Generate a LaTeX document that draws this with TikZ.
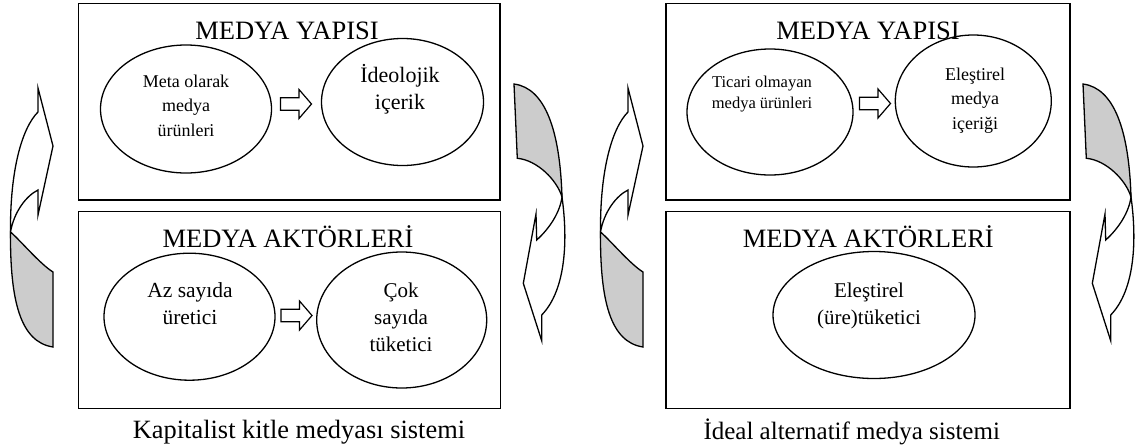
\documentclass[tikz,border=0pt]{standalone}
\usepackage{fontspec}
\setmainfont{Liberation Serif}
\usetikzlibrary{shapes.geometric}
\definecolor{shade}{RGB}{204,204,204}
\newcommand\hollowarrow[1]{\draw[hollow] (#1) ++(0,-6.3) -- ++(18.5,0) -- ++(0,-8.2) -- ++(12.5,14.5) -- ++(-12.5,14.5) -- ++(0,-8.2) -- ++(-18.5,0) -- cycle;}
\newcommand\leftcurve[1]{%
\begin{scope}[xshift=#1]
\draw[back] (53,347) .. controls (20,342) and (10,300) .. (10.5,232) .. controls (20,240) and (40,264) .. (53,272) -- cycle;
\draw[front] (10.5,232) .. controls (10,170) and (22,128) .. (38,112) -- (38,88) -- (53,146) -- (38,215) -- (38,190) .. controls (26,196) and (14,212) .. (10.5,232) -- cycle;
\end{scope}}
\newcommand\rightcurve[1]{%
\begin{scope}[xshift=#1]
\draw[back] (514,84) .. controls (545,88) and (560,130) .. (562,197) .. controls (557,180) and (537,160) .. (517.3,158.3) -- cycle;
\draw[front] (562,197) .. controls (568,240) and (566,290) .. (541.7,315) -- (541.7,340.7) -- (523.3,283.3) -- (536,214) -- (536.7,240) .. controls (550,228) and (560,212) .. (562,197) -- cycle;
\end{scope}}
\begin{document}
\begin{tikzpicture}[x=1pt,y=-1pt,
  frame/.style={draw, line width=1.6pt, minimum height=196.7pt, inner sep=0pt, outer sep=0pt},
  ell/.style={draw, ellipse, line width=1.3pt, inner sep=0pt},
  title/.style={font=\fontsize{26.5}{30}\selectfont, anchor=base, inner sep=0pt},
  txt/.style={align=center, inner sep=0pt},
  band/.style={line width=1.3pt, line join=miter},
  back/.style={band, fill=shade},
  front/.style={band, fill=white},
  hollow/.style={line width=1.2pt, fill=white, line join=miter}
]
\useasboundingbox (0,0) rectangle (1135,445);

% ---------- left system ----------
\node[frame, minimum width=421.7pt] (topL) at (289.15,101.65) {};
\node[frame, minimum width=422pt] (botL) at (289.3,310) {};
\node[title] (tL) at (287,39.5) {MEDYA YAPISI};
\node[title] (aL) at (288,247) {MEDYA AKTÖRLERİ};

\node[ell, minimum width=171pt, minimum height=128pt] (e1) at (186,109) {};
\node[ell, minimum width=162pt, minimum height=127pt] (e2) at (402.5,102) {};
\node[ell, minimum width=171pt, minimum height=127pt] (e3) at (189.5,316.7) {};
\node[ell, minimum width=170pt, minimum height=136pt] (e4) at (401.7,320) {};

\node[txt, font=\fontsize{18}{24.5}\selectfont] (t1) at (186,105.4) {Meta olarak\\medya\\ürünleri};
\node[txt, font=\fontsize{22}{27}\selectfont] (t2) at (400,89.7) {İdeolojik\\içerik};
\node[txt, font=\fontsize{21.5}{27.3}\selectfont] (t3) at (190,303.8) {Az sayıda\\üretici};
\node[txt, font=\fontsize{21}{26.8}\selectfont] (t4) at (401,317.4) {Çok\\sayıda\\tüketici};

\coordinate (a1) at (280.5,104);
\coordinate (a2) at (281,315.5);
\hollowarrow{a1}
\hollowarrow{a2}

\node[title, font=\fontsize{26.4}{30}\selectfont] (cL) at (299,438) {Kapitalist kitle medyası sistemi};

\leftcurve{0pt}
\rightcurve{0pt}

% ---------- right system ----------
\node[frame, minimum width=404.3pt] (topR) at (867.85,101.65) {};
\node[frame, minimum width=404.3pt] (botR) at (867.85,310) {};
\node[title] (tR) at (868,39.5) {MEDYA YAPISI};
\node[title] (aR) at (868.3,247) {MEDYA AKTÖRLERİ};

\node[ell, minimum width=166pt, minimum height=126pt] (r1) at (770,112) {};
\node[ell, minimum width=156pt, minimum height=132pt] (r2) at (973.3,101) {};
\node[ell, minimum width=202pt, minimum height=127pt] (r3) at (874,315) {};

\node[txt, font=\fontsize{16.5}{21.7}\selectfont] (u1) at (762,94) {Ticari olmayan\\medya ürünleri};
\node[txt, font=\fontsize{18}{24.2}\selectfont] (u2) at (975,100.6) {Eleştirel\\medya\\içeriği};
\node[txt, font=\fontsize{21}{26.7}\selectfont] (u3) at (869,306) {Eleştirel\\(üre)tüketici};

\coordinate (a3) at (859.5,103.5);
\hollowarrow{a3}

\node[title, font=\fontsize{25}{30}\selectfont] (cR) at (851.7,439) {İdeal alternatif medya sistemi};

\leftcurve{590pt}
\rightcurve{569pt}
\end{tikzpicture}
\end{document}
